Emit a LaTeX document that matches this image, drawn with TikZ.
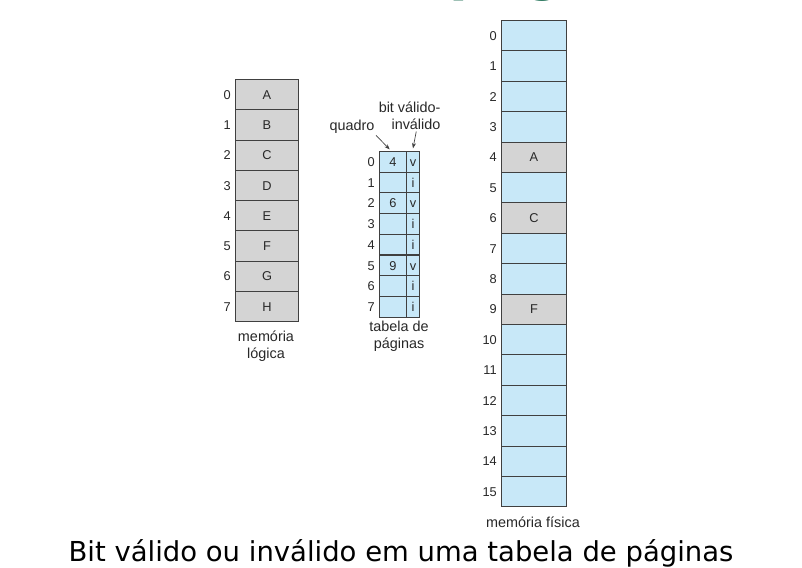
\documentclass[tikz,border=0pt]{standalone}
\usepackage{fontspec}
\setmainfont{Liberation Sans}
\newfontfamily\capfont{DejaVu Sans}
\usepackage{xcolor}
\usetikzlibrary{positioning, arrows.meta}
\definecolor{cellblue}{RGB}{200,232,248}
\definecolor{cellgray}{RGB}{212,212,212}
\definecolor{edgegray}{RGB}{64,64,64}
\definecolor{inkgray}{RGB}{40,40,40}
\definecolor{titlegreen}{RGB}{0,92,62}

\begin{document}
\begin{tikzpicture}[
        x=0.75pt, y=-0.75pt,
        lcell/.style={rectangle, draw=edgegray, line width=0.75pt, fill=cellgray, inner sep=0pt, minimum width=47.25pt, minimum height=22.69pt, text height=7pt, text depth=0pt, text=inkgray, font=\fontsize{9.6}{11}\selectfont},
        fcell/.style={lcell, fill=cellblue, minimum width=20.25pt, minimum height=15.5pt},
        bcell/.style={fcell, minimum width=9.75pt},
        pcell/.style={lcell, minimum width=48.75pt, minimum height=22.8pt},
        rowlabel/.style={inner sep=0pt, text height=7pt, text depth=0pt, text=inkgray, font=\fontsize{9.6}{11}\selectfont},
        caption/.style={align=center, text=inkgray, font=\fontsize{10.8}{12.8}\selectfont},
        ptr/.style={-{Stealth[length=4pt, width=3pt]}, line width=0.5pt, draw=edgegray}
    ]
    \useasboundingbox[fill=white] (0,0) rectangle (802,567);

    % slide title, cut off by the top edge
    \begin{scope}
        \clip (0,0) rectangle (802,567);
        \node[anchor=base west, inner sep=0pt, text=titlegreen, font=\capfont\bfseries\fontsize{41}{48}\selectfont] (title) at (449,-10.5) {pág};
    \end{scope}

    % memoria logica
    \foreach \r/\t in {0/A, 1/B, 2/C, 3/D, 4/E, 5/F, 6/G, 7/H} {
        \node[lcell, anchor=north west] (lg\r) at (235, 79 + 30.25*\r) {\t};
        \node[rowlabel, left=3pt of lg\r] (lgn\r) {\r};
    }
    \node[caption] (lgcap) at (266, 346) {memória\\lógica};

    % tabela de paginas
    \foreach \r/\q/\b in {0/4/v, 1//i, 2/6/v, 3//i, 4//i, 5/9/v, 6//i, 7//i} {
        \node[fcell, anchor=north west] (pt\r) at (379, 151 + 20.7*\r) {\q};
        \node[bcell, anchor=north west] (vb\r) at (406, 151 + 20.7*\r) {\b};
        \node[rowlabel, left=3pt of pt\r] (ptn\r) {\r};
    }
    \node[caption] (ptcap) at (399, 336.5) {tabela de\\páginas};
    \node[caption, inner sep=1pt] (quadro) at (352, 127) {quadro};
    \node[caption, align=right, anchor=east, inner sep=1pt] (bitlab) at (442, 116) {bit válido-\\inválido};
    \draw[ptr] (quadro.south east) -- ([xshift=-2.5pt, yshift=1.2pt]pt0.north);
    \draw[ptr] ([xshift=5pt]bitlab.south) -- ([yshift=2pt]vb0.north);

    % memoria fisica
    \foreach \r/\t/\c in {0//cellblue, 1//cellblue, 2//cellblue, 3//cellblue, 4/A/cellgray, 5//cellblue, 6/C/cellgray, 7//cellblue, 8//cellblue, 9/F/cellgray, 10//cellblue, 11//cellblue, 12//cellblue, 13//cellblue, 14//cellblue, 15//cellblue} {
        \node[pcell, fill=\c, anchor=north west] (fm\r) at (501, 20 + 30.4*\r) {\t};
        \node[rowlabel, left=3pt of fm\r] (fmn\r) {\r};
    }
    \node[caption] (fmcap) at (533, 522) {memória física};

    \node[anchor=base, inner sep=0pt, font=\capfont\fontsize{20.6}{24}\selectfont] (legenda) at (401, 561) {Bit válido ou inválido em uma tabela de páginas};
\end{tikzpicture}
\end{document}
